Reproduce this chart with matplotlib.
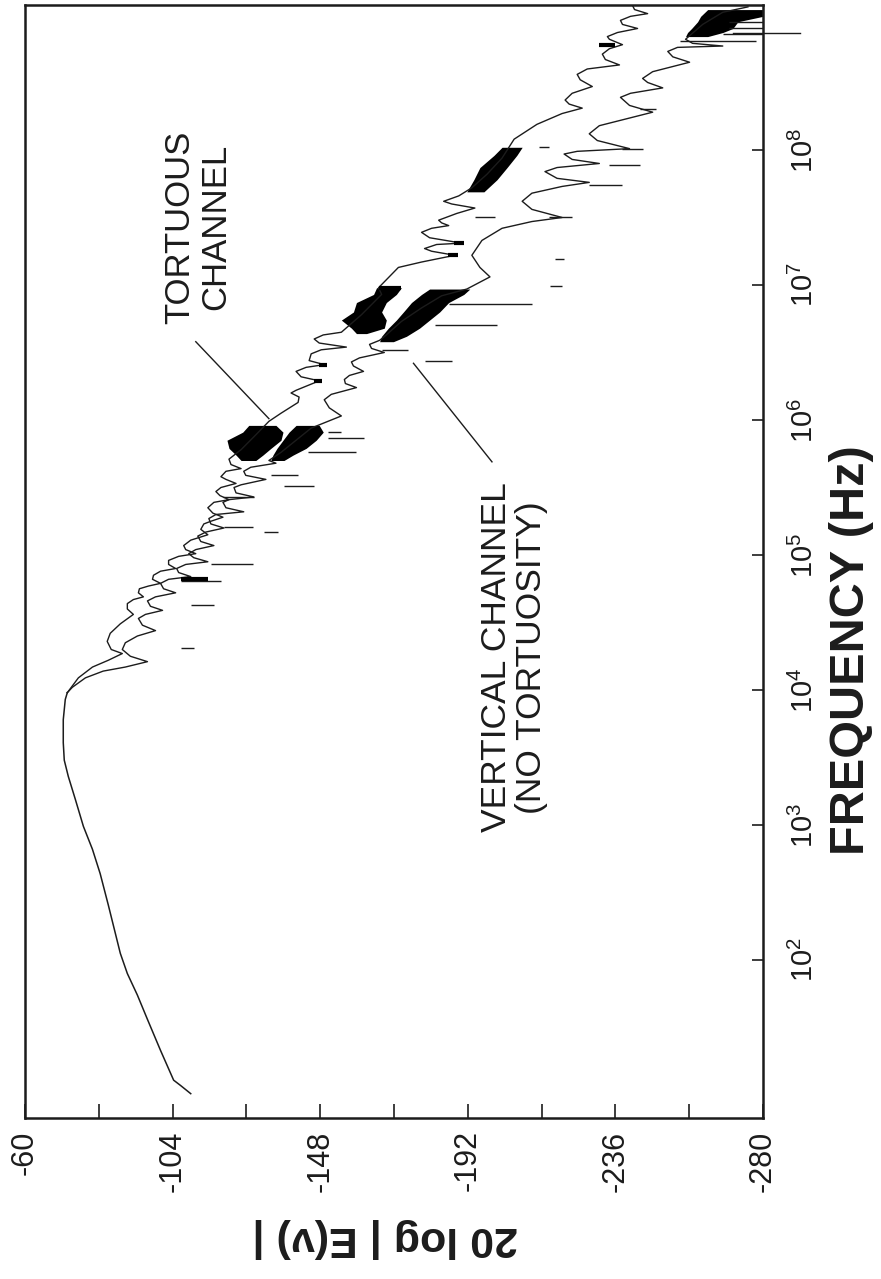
import numpy as np
import matplotlib
matplotlib.use('Agg')
import matplotlib.pyplot as plt
from matplotlib.ticker import NullLocator

plt.rcParams['font.family'] = ['Liberation Sans', 'DejaVu Sans']
plt.rcParams['mathtext.fontset'] = 'custom'
plt.rcParams['mathtext.rm'] = 'Liberation Sans'

# low-frequency part shared by both channels: log10(f / Hz) and 20 log|E| in dB
low_logf = [1.01, 1.07, 1.11, 1.33, 1.56, 1.74, 1.90, 2.05, 2.20, 2.41, 2.64,
            2.82, 2.99, 3.19, 3.36, 3.48, 3.61, 3.78, 3.93, 3.98]
low_db = [-109.4, -106.4, -104.3, -100.4, -96.5, -93.5, -90.5, -88.4, -86.9, -84.8, -82.4,
          -80.1, -77.4, -75.0, -72.9, -71.7, -71.4, -71.4, -72.0, -72.6]

# tortuous channel
tort_logf = [3.98, 4.09, 4.17, 4.22, 4.27, 4.30, 4.36, 4.42, 4.49, 4.56, 4.60, 4.64, 4.67,
             4.69, 4.72, 4.75, 4.77, 4.79, 4.82, 4.85, 4.88, 4.90, 4.93, 4.96, 4.99, 5.01,
             5.04, 5.07, 5.11, 5.15, 5.19, 5.23, 5.25, 5.28, 5.31, 5.35, 5.39, 5.41, 5.44,
             5.47, 5.50, 5.53, 5.56, 5.58, 5.62, 5.64, 5.67, 5.71, 5.78, 5.89, 5.99, 6.05,
             6.13, 6.17, 6.20, 6.22, 6.29, 6.32, 6.36, 6.39, 6.41, 6.44, 6.49, 6.52, 6.54,
             6.57, 6.60, 6.63, 6.65, 6.78, 6.93, 6.98, 7.13, 7.17, 7.22, 7.25, 7.27, 7.30,
             7.31, 7.35, 7.39, 7.42, 7.44, 7.46, 7.48, 7.53, 7.57, 7.60, 7.62, 7.66, 7.72,
             7.82, 7.94, 8.08, 8.19, 8.27, 8.31, 8.34, 8.37, 8.42, 8.47, 8.52, 8.56, 8.60,
             8.63, 8.67, 8.71, 8.75, 8.78, 8.82, 8.84, 8.87, 8.90, 8.93, 8.96, 8.99, 9.01,
             9.04, 9.07]
tort_db = [-72.6, -75.9, -80.1, -84.8, -89.0, -85.7, -84.5, -85.4, -88.4, -92.3, -90.5, -90.5, -92.3,
           -95.3, -93.8, -94.1, -96.8, -100.4, -98.0, -98.3, -100.4, -104.9, -102.8, -102.8, -105.8, -110.9,
           -107.9, -107.3, -109.4, -114.5, -112.4, -113.3, -115.4, -119.0, -116.0, -114.5, -116.3, -120.8, -118.1,
           -116.9, -118.4, -122.9, -119.9, -118.4, -119.9, -124.4, -121.4, -120.8, -124.4, -128.8, -132.7, -136.3,
           -141.4, -141.7, -139.3, -140.8, -147.7, -142.3, -140.8, -143.8, -149.2, -144.7, -145.3, -148.3, -155.8,
           -147.7, -146.2, -148.9, -154.3, -160.3, -166.3, -165.4, -171.3, -178.2, -188.1, -181.2, -179.1, -182.7,
           -190.2, -180.6, -178.2, -181.2, -186.3, -184.2, -183.3, -188.7, -194.1, -187.2, -184.8, -189.3, -193.2,
           -197.7, -202.2, -205.8, -212.6, -220.1, -226.1, -222.2, -221.0, -223.1, -229.1, -225.5, -224.6, -227.6,
           -237.2, -233.0, -232.1, -234.2, -238.1, -234.2, -233.6, -236.6, -242.6, -238.1, -237.5, -240.5, -245.6,
           -241.7, -241.1]

# vertical channel (no tortuosity)
vert_logf = [3.98, 4.02, 4.09, 4.14, 4.17, 4.21, 4.25, 4.30, 4.35, 4.40, 4.44, 4.48, 4.53,
             4.56, 4.59, 4.62, 4.66, 4.69, 4.72, 4.75, 4.79, 4.82, 4.84, 4.87, 4.90, 4.93,
             4.95, 4.98, 5.01, 5.04, 5.07, 5.10, 5.14, 5.17, 5.20, 5.23, 5.27, 5.30, 5.32,
             5.35, 5.39, 5.41, 5.43, 5.46, 5.50, 5.52, 5.56, 5.59, 5.62, 5.65, 5.68, 5.70,
             5.76, 5.85, 5.94, 5.97, 6.03, 6.09, 6.15, 6.19, 6.24, 6.27, 6.30, 6.33, 6.36,
             6.40, 6.43, 6.46, 6.50, 6.53, 6.56, 6.59, 6.63, 6.73, 6.83, 6.92, 6.97, 7.06,
             7.13, 7.22, 7.33, 7.42, 7.47, 7.50, 7.56, 7.62, 7.68, 7.73, 7.76, 7.79, 7.84,
             7.87, 7.90, 7.93, 7.97, 7.99, 8.01, 8.07, 8.12, 8.18, 8.28, 8.33, 8.39, 8.42,
             8.46, 8.50, 8.53, 8.58, 8.65, 8.69, 8.73, 8.76, 8.77, 8.79, 8.82, 8.93, 9.02,
             9.06]
vert_db = [-72.6, -74.1, -78.0, -83.3, -89.9, -96.5, -91.4, -89.0, -89.9, -93.5, -98.9, -95.0, -93.8,
           -95.9, -101.0, -97.4, -96.5, -98.9, -104.9, -101.3, -100.4, -102.8, -109.4, -105.8, -105.2, -107.9,
           -114.5, -110.3, -108.8, -110.9, -116.3, -112.4, -111.5, -113.9, -119.3, -115.4, -114.8, -116.9, -125.2,
           -119.9, -119.0, -120.8, -128.2, -122.9, -122.3, -124.4, -131.8, -125.8, -125.2, -127.3, -134.8, -132.7,
           -136.3, -140.8, -145.3, -148.3, -154.3, -150.7, -149.2, -151.3, -158.8, -155.5, -155.2, -156.7, -160.9,
           -157.9, -157.3, -159.7, -167.1, -163.3, -162.7, -165.7, -167.7, -172.2, -178.2, -184.2, -191.7, -198.6,
           -195.6, -193.2, -196.2, -202.2, -211.1, -220.1, -211.1, -208.2, -211.1, -220.1, -228.2, -218.6, -215.0,
           -218.6, -231.2, -223.1, -220.7, -224.6, -240.2, -230.6, -228.2, -231.2, -247.1, -240.2, -237.5, -240.5,
           -250.1, -245.6, -244.1, -247.1, -258.1, -253.1, -251.6, -254.5, -268.0, -259.0, -256.9, -262.0, -268.0,
           -275.5]

# dense resonance clusters (filled): log10 f, edge nearest 0 dB, far edge
tort_blob1_logf = [5.70, 5.74, 5.79, 5.85, 5.91, 5.96]
tort_blob1_near = [-124.4, -122.9, -120.8, -120.2, -124.9, -126.7]
tort_blob1_far = [-128.8, -130.9, -133.3, -136.3, -136.9, -134.8]
vert_blob1_logf = [5.70, 5.74, 5.79, 5.85, 5.91, 5.96]
vert_blob1_near = [-133.3, -133.9, -135.1, -136.9, -138.7, -140.8]
vert_blob1_far = [-137.2, -139.9, -143.8, -146.8, -148.9, -147.7]
tort_blob2_logf = [6.64, 6.68, 6.74, 6.80, 6.87, 6.93, 6.98]
tort_blob2_near = [-158.8, -157.3, -154.3, -157.9, -158.8, -163.9, -164.8]
tort_blob2_far = [-161.8, -167.1, -167.7, -166.3, -167.7, -170.7, -172.2]
vert_blob2_logf = [6.58, 6.62, 6.68, 6.74, 6.80, 6.87, 6.93, 6.97]
vert_blob2_near = [-165.7, -166.3, -168.3, -170.7, -172.8, -175.2, -178.2, -180.6]
vert_blob2_far = [-169.8, -173.7, -177.6, -180.6, -183.6, -186.3, -190.8, -192.6]
tort_blob3_logf = [7.69, 7.78, 7.87, 7.96, 8.02]
tort_blob3_near = [-191.7, -193.8, -195.6, -199.8, -202.2]
tort_blob3_far = [-196.8, -200.7, -203.7, -206.6, -208.2]
vert_blob3_logf = [8.84, 8.87, 8.90, 8.95, 8.99, 9.04]
vert_blob3_near = [-256.9, -257.5, -258.7, -260.5, -261.4, -263.5]
vert_blob3_far = [-263.5, -268.0, -271.0, -272.5, -280.0, -280.0]

# narrow notches drawn as horizontal strokes
spike_logf = [5.87, 5.76, 5.51, 5.17, 4.93, 4.63, 4.31, 6.86, 6.70, 6.44, 6.99, 7.50, 6.52,
              8.81, 7.89, 7.74, 7.50, 8.02, 8.01, 8.30, 5.59, 5.91, 5.43, 5.21, 7.19, 8.95,
              8.90, 8.86, 4.81]
spike_start = [-150.4, -144.4, -137.2, -131.2, -115.4, -109.4, -106.4, -186.3, -182.1, -179.1, -216.5, -194.1, -166.3,
               -255.1, -234.2, -228.2, -216.2, -213.2, -238.1, -243.2, -133.3, -150.4, -119.0, -119.3, -218.0, -270.0,
               -270.0, -268.0, -106.4]
spike_end = [-160.9, -158.8, -146.2, -135.4, -127.9, -116.3, -110.3, -211.1, -200.7, -187.2, -220.1, -200.1, -174.3,
             -277.9, -243.2, -238.1, -223.1, -216.2, -244.1, -248.0, -141.4, -154.3, -128.2, -127.9, -220.7, -280.0,
             -280.0, -280.0, -118.4]

# darker notch marks
dash_logf = [4.82, 8.78, 6.98, 7.22, 7.31, 6.41, 6.29]
dash_start = [-106.4, -231.2, -165.4, -186.0, -188.0, -147.5, -146.0]
dash_end = [-114.5, -236.0, -172.2, -189.0, -191.0, -150.0, -148.5]

db_ticks = [-60, -82, -104, -126, -148, -170, -192, -214, -236, -258, -280]
db_labels = ['-60', '', '-104', '', '-148', '', '-192', '', '-236', '', '-280']
freq_exps = [2, 3, 4, 5, 6, 7, 8]

ink = '#1c1c1c'

fig = plt.figure(figsize=(8.81, 12.79), dpi=100)
ax = fig.add_axes([0.0284, 0.1259, 0.8377, 0.8702])


def hz(logf):
    return 10.0 ** np.asarray(logf)


ax.plot(low_db, hz(low_logf), color=ink, lw=1.1)
ax.plot(tort_db, hz(tort_logf), color=ink, lw=1.0)
ax.plot(vert_db, hz(vert_logf), color=ink, lw=1.0)

for lf, near, far in [(tort_blob1_logf, tort_blob1_near, tort_blob1_far),
                      (vert_blob1_logf, vert_blob1_near, vert_blob1_far),
                      (tort_blob2_logf, tort_blob2_near, tort_blob2_far),
                      (vert_blob2_logf, vert_blob2_near, vert_blob2_far),
                      (tort_blob3_logf, tort_blob3_near, tort_blob3_far),
                      (vert_blob3_logf, vert_blob3_near, vert_blob3_far)]:
    ax.fill_betweenx(hz(lf), near, far, color='black', lw=0)

ax.hlines(hz(spike_logf), spike_start, spike_end, color=ink, lw=1.0)
ax.hlines(hz(dash_logf), dash_start, dash_end, color='black', lw=3.0)
# last notch runs past the frame
ax.plot([-271.0, -291.0], hz([8.87, 8.87]), color=ink, lw=1.0, clip_on=False)

# callouts
ax.plot([-110.9, -132.7], hz([6.58, 6.01]), color=ink, lw=1.0)
ax.plot([-199.2, -175.8], hz([5.69, 6.42]), color=ink, lw=1.0)
ax.text(-111.5, 10 ** 7.43, 'TORTUOUS\nCHANNEL', rotation=90, ha='center', va='center',
        multialignment='center', fontsize=25, linespacing=1.12, color=ink)
ax.text(-205.8, 10 ** 4.24, 'VERTICAL CHANNEL\n(NO TORTUOSITY)', rotation=90, ha='center',
        va='center', multialignment='center', fontsize=25.5, linespacing=1.08, color=ink)

ax.set_yscale('log')
ax.set_xlim(-60, -280)
ax.set_ylim(10 ** 0.83, 10 ** 9.074)

ax.set_xticks(db_ticks)
ax.set_xticklabels(db_labels)
ax.yaxis.set_minor_locator(NullLocator())
ax.set_yticks([10.0 ** e for e in freq_exps])
ax.set_yticklabels([r'$\mathregular{10^{%d}}$' % e for e in freq_exps])

ax.tick_params(axis='x', direction='in', length=10, width=1.2, pad=9, labelsize=22,
               top=False, colors=ink)
ax.tick_params(axis='y', direction='in', length=8, width=1.2, pad=19, labelsize=21,
               left=False, right=True, labelleft=False, labelright=True, colors=ink)
plt.setp(ax.get_xticklabels(), rotation=90, ha='center', va='top')
plt.setp(ax.get_yticklabels(), rotation=90, ha='left', va='center')

for sp in ax.spines.values():
    sp.set_linewidth(1.8)
    sp.set_color(ink)

fig.text(0.967, 0.492, 'FREQUENCY (Hz)', rotation=90, ha='center', va='center',
         fontsize=35, fontweight='bold', color=ink)
fig.text(0.437, 0.032, '20 log | E(ν) |', rotation=180, ha='center', va='center',
         fontsize=31, fontweight='bold', color=ink)

fig.savefig('out.png', dpi=100, facecolor='white')
